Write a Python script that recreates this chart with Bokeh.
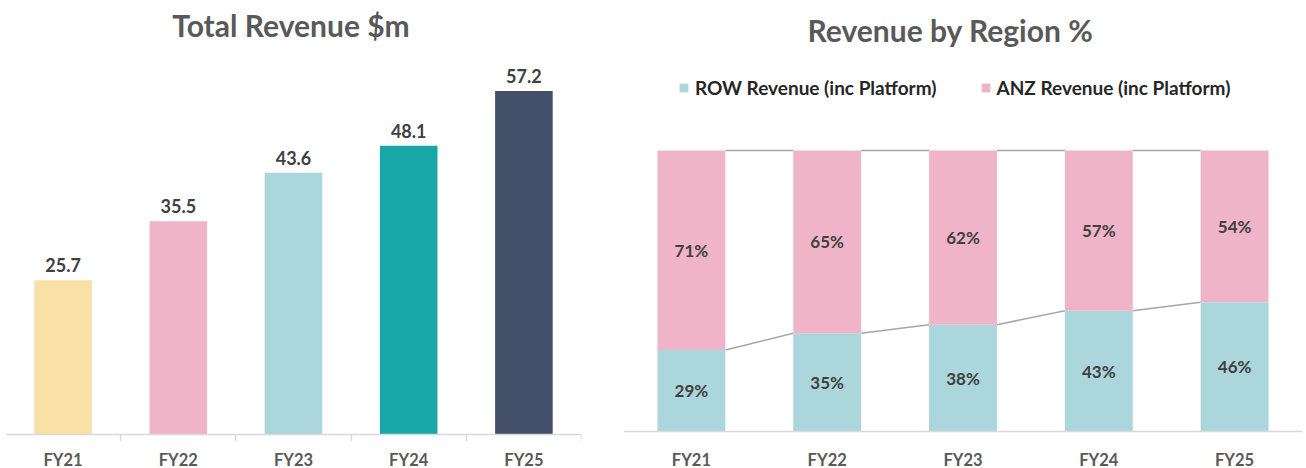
from bokeh.plotting import figure
from bokeh.models import Range1d, FixedTicker, Label, Legend, LegendItem, ColumnDataSource
from bokeh.layouts import row
from bokeh.embed import file_html
from bokeh.resources import INLINE
from bokeh.core.properties import value

# ---------------- data ----------------
years = ["FY21", "FY22", "FY23", "FY24", "FY25"]
total_revenue = [25.7, 35.5, 43.6, 48.1, 57.2]
total_colors = ["#F9E0A5", "#EFB4C8", "#ABD7DC", "#19A6A7", "#444F69"]
row_pct = [29, 35, 38, 43, 46]
anz_pct = [71, 65, 62, 57, 54]
row_label = "ROW Revenue (inc Platform)"
anz_label = "ANZ Revenue (inc Platform)"
row_color = "#ABD7DC"
anz_color = "#EFB4C8"

FONT = "Lato"
TITLE_C = "#595959"
TEXT_C = "#404040"
AXIS_C = "#D9D9D9"
LINK_C = "#A6A6A6"

n = len(years)
centers = [i + 0.5 for i in range(n)]
H = 468


def base_fig(width, left, right, axis_px, px_per_unit):
    # frame covers the full height; value 0 sits at axis_px from the top
    y0 = -(H - axis_px) / px_per_unit
    y1 = axis_px / px_per_unit
    p = figure(width=width, height=H, x_range=Range1d(0, n), y_range=Range1d(y0, y1),
               output_backend="svg", toolbar_location=None,
               min_border_left=left, min_border_right=right,
               min_border_top=0, min_border_bottom=0)
    p.outline_line_color = None
    p.xgrid.visible = False
    p.ygrid.visible = False
    p.yaxis.visible = False
    p.background_fill_color = "white"
    p.border_fill_color = "white"
    ax = p.xaxis[0]
    ax.fixed_location = 0
    ax.axis_line_color = AXIS_C
    ax.axis_line_width = 1.5
    ax.major_tick_out = 0
    ax.major_tick_in = 0
    ax.minor_tick_out = 0
    ax.minor_tick_in = 0
    ax.major_label_overrides = {c: y for c, y in zip(centers, years)}
    ax.major_label_text_font = FONT
    ax.major_label_text_font_style = "bold"
    ax.major_label_text_font_size = "16.5px"
    ax.major_label_text_color = TITLE_C
    return p


# ---------------- left: Total Revenue ----------------
L_AXIS = 434
L_SCALE = 6.005
p1 = base_fig(620, 5, 39, L_AXIS, L_SCALE)
ax1 = p1.xaxis[0]
ax1.ticker = FixedTicker(ticks=centers, minor_ticks=list(range(1, n + 1)))
ax1.minor_tick_out = 7
ax1.minor_tick_line_color = AXIS_C
ax1.minor_tick_line_width = 1.5
ax1.major_label_standoff = 8

src1 = ColumnDataSource(dict(x=centers, top=total_revenue, color=total_colors,
                             label=[f"{v:.1f}" for v in total_revenue]))
p1.vbar(x="x", top="top", bottom=0, width=0.5, fill_color="color", line_color=None, source=src1)
p1.text(x="x", y="top", text="label", source=src1, text_font=value(FONT), text_font_style="bold",
        text_font_size="18px", text_color=TEXT_C, text_align="center", text_baseline="alphabetic",
        y_offset=-15)

p1.add_layout(Label(x=(290.5 - 5) / 576 * n, y=(L_AXIS - 24) / L_SCALE, text="Total Revenue $m",
                    text_font=FONT, text_font_style="bold", text_font_size="30px",
                    text_color=TITLE_C, text_align="center", text_baseline="alphabetic"))

# ---------------- right: Revenue by Region ----------------
R_AXIS = 431
R_SCALE = 2.81
p2 = base_fig(686, 3, 4, R_AXIS, R_SCALE)
ax2 = p2.xaxis[0]
ax2.ticker = FixedTicker(ticks=centers)
ax2.major_label_standoff = 18

total_pct = [a + b for a, b in zip(row_pct, anz_pct)]
src2 = ColumnDataSource(dict(x=centers, row=row_pct, tot=total_pct,
                             row_mid=[v / 2 for v in row_pct],
                             anz_mid=[r + a / 2 for r, a in zip(row_pct, anz_pct)],
                             row_lab=[f"{v}%" for v in row_pct],
                             anz_lab=[f"{v}%" for v in anz_pct]))

# connector lines between series tops
p2.segment(x0=[c + 0.25 for c in centers[:-1]], x1=[c - 0.25 for c in centers[1:]],
           y0=row_pct[:-1], y1=row_pct[1:], line_color=LINK_C, line_width=1.5)
p2.segment(x0=[c + 0.25 for c in centers[:-1]], x1=[c - 0.25 for c in centers[1:]],
           y0=total_pct[:-1], y1=total_pct[1:], line_color=LINK_C, line_width=1.5)

r_row = p2.vbar(x="x", bottom=0, top="row", width=0.5, fill_color=row_color, line_color=None, source=src2)
r_anz = p2.vbar(x="x", bottom="row", top="tot", width=0.5, fill_color=anz_color, line_color=None, source=src2)

for ycol, tcol in (("row_mid", "row_lab"), ("anz_mid", "anz_lab")):
    p2.text(x="x", y=ycol, text=tcol, source=src2, text_font=value(FONT), text_font_style="bold",
            text_font_size="17px", text_color=TEXT_C, text_align="center", text_baseline="middle")

p2.add_layout(Label(x=(950 - 623) / 679 * n, y=(R_AXIS - 29) / R_SCALE, text="Revenue by Region %",
                    text_font=FONT, text_font_style="bold", text_font_size="30px",
                    text_color=TITLE_C, text_align="center", text_baseline="alphabetic"))

# legend: bottom-left corner given in screen px from the frame's bottom-left
legend = Legend(items=[LegendItem(label=row_label, renderers=[r_row]),
                       LegendItem(label=anz_label, renderers=[r_anz])],
                location=(55, H - 98.5), orientation="horizontal",
                glyph_width=11, glyph_height=11, label_height=22, label_standoff=6, spacing=43,
                padding=0, margin=0, border_line_color=None, background_fill_alpha=0,
                label_text_font=FONT, label_text_font_style="bold", label_text_font_size="19px",
                label_text_color="#262626")
p2.add_layout(legend)

layout = row(p1, p2)
open("out.html", "w").write(file_html(layout, INLINE))
